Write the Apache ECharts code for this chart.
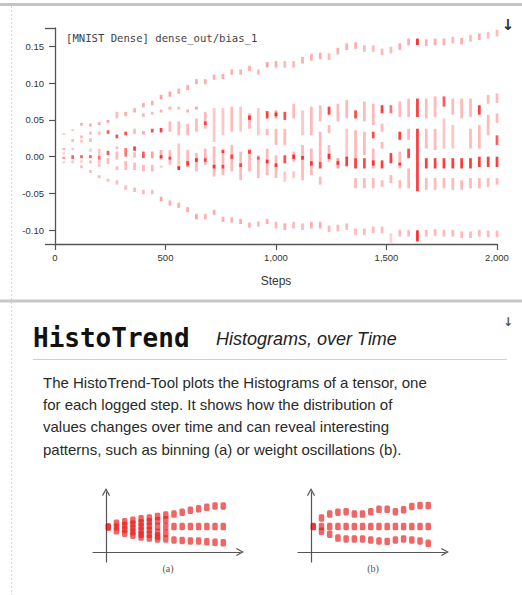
<!DOCTYPE html>
<html><head><meta charset="utf-8">
<script src="https://cdn.jsdelivr.net/npm/echarts@6/dist/echarts.min.js"></script>
<style>html,body{margin:0;padding:0;background:#fff}#c{width:522px;height:595px}</style>
</head><body><div id="c"></div>
<script>
// ---------- data ----------
const steps = [40,80,120,160,200,240,280,320,360,400,440,480,520,560,600,640,680,720,760,800,840,880,920,960,1000,1040,1080,1120,1160,1200,1240,1280,1320,1360,1400,1440,1480,1520,1560,1600,1640,1680,1720,1760,1800,1840,1880,1920,1960,2000];

// upper outlier bin per step: [low, high, weight]
const upperBand = [
 [0.030,0.032,0.35],[0.035,0.037,0.35],[0.042,0.046,0.4],[0.041,0.045,0.4],[0.043,0.047,0.4],[0.046,0.050,0.45],
 [0.052,0.061,0.35],[0.055,0.061,0.4],[0.060,0.066,0.4],[0.067,0.073,0.4],[0.070,0.076,0.4],[0.078,0.084,0.45],
 [0.0815,0.0885,0.45],[0.0855,0.0925,0.4],[0.0905,0.0975,0.4],[0.0985,0.1055,0.4],[0.0985,0.1055,0.4],[0.1045,0.1115,0.4],
 [0.1055,0.1125,0.4],[0.1115,0.1185,0.4],[0.1115,0.1185,0.4],[0.1165,0.1235,0.4],[0.1115,0.1185,0.35],[0.1215,0.1285,0.45],
 [0.121,0.130,0.4],[0.121,0.130,0.35],[0.121,0.130,0.35],[0.1265,0.1355,0.4],[0.1305,0.1395,0.4],[0.1325,0.1415,0.4],
 [0.1315,0.1405,0.35],[0.139,0.148,0.4],[0.145,0.154,0.4],[0.1465,0.1555,0.4],[0.1425,0.1515,0.35],[0.1425,0.1515,0.35],
 [0.138,0.147,0.35],[0.1405,0.1495,0.35],[0.145,0.154,0.4],[0.1515,0.1605,0.4],[0.1515,0.1605,0.85],[0.1505,0.1595,0.4],
 [0.1515,0.1605,0.4],[0.1515,0.1605,0.4],[0.154,0.163,0.35],[0.1525,0.1615,0.4],[0.1565,0.1655,0.35],[0.1585,0.1675,0.4],
 [0.1605,0.1695,0.35],[0.1635,0.1725,0.35]
];

// lower outlier bin per step: [low, high, weight]
const lowerBand = [
 null,null,[-0.0156,-0.0116,0.35],[-0.022,-0.018,0.35],[-0.029,-0.025,0.35],[-0.034,-0.030,0.35],
 [-0.038,-0.032,0.35],[-0.045,-0.039,0.35],[-0.048,-0.042,0.35],[-0.051,-0.045,0.35],[-0.051,-0.045,0.35],[-0.0605,-0.0545,0.45],
 [-0.0665,-0.0595,0.4],[-0.0695,-0.0625,0.4],[-0.0755,-0.0685,0.4],[-0.085,-0.078,0.45],[-0.085,-0.078,0.4],[-0.079,-0.072,0.4],
 [-0.0885,-0.0815,0.4],[-0.0895,-0.0825,0.4],[-0.0915,-0.0845,0.4],[-0.0965,-0.0895,0.4],[-0.095,-0.088,0.35],[-0.0915,-0.0845,0.4],
 [-0.0975,-0.0885,0.35],[-0.0995,-0.0905,0.4],[-0.0975,-0.0885,0.35],[-0.0995,-0.0905,0.35],[-0.0975,-0.0885,0.4],[-0.0975,-0.0885,0.4],
 [-0.1025,-0.0935,0.35],[-0.1015,-0.0925,0.35],[-0.0995,-0.0905,0.35],[-0.1065,-0.0975,0.35],[-0.1065,-0.0975,0.35],[-0.104,-0.095,0.35],
 [-0.104,-0.095,0.35],[-0.117,-0.104,0.25],[-0.1085,-0.0995,0.35],[-0.1085,-0.0995,0.35],[-0.115,-0.100,0.85],[-0.1085,-0.0995,0.35],
 [-0.1075,-0.0985,0.35],[-0.1085,-0.0995,0.35],[-0.1085,-0.0995,0.35],[-0.1105,-0.1015,0.35],[-0.1105,-0.1015,0.35],[-0.1085,-0.0995,0.35],
 [-0.1095,-0.1005,0.35],[-0.1095,-0.1005,0.35]
];

// central bins per step: list of [low, high, weight]
const middleBins = [
 [[0.009,0.012,0.4],[0.003,0.006,0.3],[-0.003,0.000,0.5],[-0.009,-0.006,0.3]],
 [[0.020,0.024,0.35],[0.009,0.012,0.3],[-0.003,0.002,0.7],[-0.009,-0.005,0.3]],
 [[0.025,0.029,0.35],[0.019,0.023,0.3],[-0.002,0.002,0.7],[-0.008,-0.005,0.3]],
 [[0.030,0.034,0.35],[0.020,0.025,0.35],[0.007,0.011,0.3],[-0.002,0.002,0.7],[-0.009,-0.005,0.35]],
 [[0.030,0.034,0.35],[-0.014,0.011,0.3],[-0.004,0.001,0.5]],
 [[0.031,0.036,0.7],[0.002,0.008,0.7],[-0.010,-0.002,0.35]],
 [[0.025,0.030,0.75],[0.010,0.014,0.35],[-0.004,0.007,0.35],[-0.018,-0.013,0.35]],
 [[0.029,0.034,0.75],[0.000,0.012,0.6],[-0.018,-0.006,0.35]],
 [[0.031,0.038,0.35],[0.008,0.014,0.8],[-0.001,0.006,0.35],[-0.018,-0.008,0.35]],
 [[0.054,0.059,0.35],[0.030,0.035,0.4],[-0.002,0.007,0.7],[-0.020,-0.011,0.35]],
 [[0.057,0.061,0.35],[0.033,0.038,0.75],[-0.002,0.007,0.45],[-0.020,-0.011,0.35]],
 [[0.060,0.064,0.4],[0.033,0.039,0.8],[-0.004,0.009,0.4],[-0.002,0.002,0.8],[-0.015,-0.012,0.3]],
 [[0.064,0.068,0.4],[0.034,0.048,0.35],[-0.011,0.009,0.35],[-0.004,0.000,0.7]],
 [[0.064,0.068,0.35],[0.029,0.048,0.35],[-0.016,0.018,0.3],[-0.018,-0.013,0.85]],
 [[0.060,0.064,0.4],[0.029,0.045,0.35],[-0.014,0.009,0.35],[-0.012,-0.006,0.75]],
 [[0.064,0.068,0.45],[0.034,0.052,0.35],[-0.020,0.005,0.35],[-0.007,-0.002,0.8]],
 [[0.038,0.061,0.35],[0.043,0.048,0.7],[-0.011,0.011,0.35],[-0.007,-0.002,0.7]],
 [[0.020,0.066,0.3],[-0.027,0.014,0.35],[-0.016,-0.011,0.8]],
 [[0.029,0.066,0.3],[-0.025,0.011,0.35],[0.005,0.009,0.75],[-0.016,-0.011,0.7]],
 [[0.034,0.068,0.35],[-0.020,0.016,0.35],[-0.003,0.003,0.7]],
 [[0.034,0.068,0.3],[-0.032,0.007,0.35],[-0.014,-0.009,0.7]],
 [[0.038,0.059,0.35],[0.050,0.056,0.8],[-0.020,0.011,0.35],[0.004,0.009,0.75]],
 [[0.029,0.066,0.3],[-0.029,0.002,0.35],[-0.004,0.000,0.6]],
 [[0.052,0.062,0.8],[0.029,0.038,0.35],[-0.025,0.011,0.35],[-0.009,-0.004,0.8]],
 [[0.052,0.063,0.45],[0.055,0.060,0.8],[0.016,0.038,0.35],[-0.029,0.002,0.35],[-0.014,-0.009,0.75]],
 [[0.050,0.061,0.75],[0.016,0.038,0.35],[-0.009,0.002,0.75],[-0.034,-0.020,0.3]],
 [[0.052,0.072,0.35],[-0.007,0.007,0.35],[-0.003,0.003,0.8],[-0.029,-0.020,0.3]],
 [[0.029,0.063,0.3],[-0.032,0.016,0.35],[-0.004,0.001,0.8]],
 [[0.029,0.068,0.35],[-0.025,0.011,0.35],[-0.012,-0.006,0.75]],
 [[0.048,0.070,0.35],[-0.007,0.034,0.35],[-0.016,-0.007,0.75],[-0.038,-0.027,0.35]],
 [[0.057,0.068,0.8],[0.032,0.043,0.35],[-0.007,0.016,0.35],[-0.003,0.004,0.8]],
 [[0.048,0.072,0.35],[-0.016,-0.002,0.45],[-0.011,-0.006,0.75]],
 [[0.052,0.077,0.35],[-0.002,0.038,0.3],[-0.013,0.000,0.8]],
 [[0.052,0.063,0.75],[-0.002,0.036,0.35],[-0.016,-0.002,0.8],[-0.043,-0.029,0.35]],
 [[0.048,0.075,0.35],[0.002,0.034,0.35],[-0.016,-0.002,0.75],[-0.043,-0.029,0.35]],
 [[0.043,0.072,0.35],[0.025,0.034,0.75],[-0.016,0.011,0.35],[-0.012,-0.005,0.8],[-0.043,-0.029,0.35]],
 [[0.059,0.070,0.8],[0.034,0.045,0.35],[0.011,0.020,0.35],[-0.016,-0.005,0.8],[-0.041,-0.032,0.35]],
 [[0.059,0.070,0.6],[-0.009,0.005,0.8],[-0.036,-0.025,0.35]],
 [[0.054,0.075,0.35],[0.023,0.034,0.8],[-0.016,0.007,0.35],[-0.012,-0.008,0.75],[-0.043,-0.032,0.35]],
 [[0.054,0.079,0.35],[0.023,0.038,0.35],[-0.002,0.011,0.75],[-0.043,-0.016,0.35]],
 [[0.054,0.079,0.8],[-0.047,0.038,0.8]],
 [[0.052,0.079,0.35],[0.011,0.038,0.35],[-0.016,-0.002,0.8],[-0.045,-0.029,0.35]],
 [[0.054,0.082,0.35],[0.009,0.038,0.35],[-0.016,-0.002,0.8],[-0.045,-0.029,0.35]],
 [[0.068,0.082,0.7],[0.011,0.052,0.3],[-0.016,-0.002,0.8],[-0.043,-0.029,0.35]],
 [[0.057,0.079,0.35],[0.011,0.043,0.3],[-0.016,-0.002,0.8],[-0.045,-0.029,0.35]],
 [[0.052,0.079,0.35],[-0.016,-0.002,0.8],[-0.045,-0.032,0.35]],
 [[0.054,0.079,0.35],[0.011,0.038,0.35],[-0.016,-0.002,0.8],[-0.043,-0.029,0.35]],
 [[0.057,0.070,0.8],[0.011,0.043,0.35],[-0.014,0.000,0.8],[-0.043,-0.029,0.35]],
 [[0.072,0.084,0.35],[0.029,0.057,0.35],[-0.014,0.000,0.8],[-0.041,-0.029,0.35]],
 [[0.073,0.086,0.35],[0.046,0.059,0.35],[0.016,0.029,0.7],[-0.014,0.000,0.8],[-0.038,-0.029,0.35]]
];

const xTickValues = [0,500,1000,1500,2000];
const yTickValues = [-0.10,-0.05,0.00,0.05,0.10,0.15];
const yMin = -0.1186, yMax = 0.1749;

// small illustrations: column index -> row offsets
const miniA = [[-0.5],[3.5,-0.5,-4.5],[5,1,-3,-7],[6.5,2.5,-1.5,-5.5,-9],[8,4,0,-4,-8,-11],[9,5,0.5,-3.5,-8,-12],
 [10.5,6,0,-6,-10,-13],[12,7,0,-7,-13],[13,0,-14],[15,0,-14.5],[17,0,-15],[18.5,0,-15],[20,0,-16],[21.5,0,-16.5],[21.5,0,-17]];
const miniB = [[0],[9,0,-5],[13,0,-8],[15,0,-12],[15.5,0,-13],[13,0,-13],[13,0,-13],[15.5,0,-14],[18,0,-15],[18,0,-15.5],
 [15.5,0,-14],[17.5,0,-13],[21,0,-14],[22,0,-15],[22,0,-17.5]];

// ---------- build ----------
const binRows = [];
steps.forEach((s, i) => {
  if (upperBand[i]) binRows.push([s, upperBand[i][0], upperBand[i][1], upperBand[i][2]]);
  if (lowerBand[i]) binRows.push([s, lowerBand[i][0], lowerBand[i][1], lowerBand[i][2]]);
  middleBins[i].forEach(b => binRows.push([s, b[0], b[1], b[2]]));
});
function miniPoints(src) {
  const out = [];
  src.forEach((col, c) => col.forEach(v => out.push({value:[c, v], itemStyle:{color: c === 0 ? 'rgba(215,0,0,0.95)' : 'rgba(232,30,30,0.85)'}})));
  return out;
}

const chart = echarts.init(document.getElementById('c'), null, {renderer:'svg'});
const axisCol = '#555';
const chevron = 'path://M5,0 L10,9 L8.8,9.8 L5,3 L1.2,9.8 L0,9 Z';
const miniAxisX = (g) => ({gridIndex:g, type:'value', min:-1.86, max:16.04, position:'bottom', offset:-10,
  axisLine:{onZero:false, lineStyle:{color:'#555', width:1.2}, symbol:['none', chevron], symbolSize:[8,9]},
  axisTick:{show:false}, axisLabel:{show:false}, splitLine:{show:false}});
const miniAxisY = (g) => ({gridIndex:g, type:'value', min:-37, max:36, position:'left', offset:-13,
  axisLine:{onZero:false, lineStyle:{color:'#555', width:1.2}, symbol:['none', chevron], symbolSize:[8,9]},
  axisTick:{show:false}, axisLabel:{show:false}, splitLine:{show:false}});

const paragraph = [
  'The HistoTrend-Tool plots the Histograms of a tensor, one',
  'for each logged step. It shows how the distribution of',
  'values changes over time and can reveal interesting',
  'patterns, such as binning (a) or weight oscillations (b).'
];

const graphics = [
  {type:'line', shape:{x1:0,y1:4.5,x2:522,y2:4.5}, style:{stroke:'#c4c4c4', lineWidth:3}},
  {type:'line', shape:{x1:11.5,y1:6,x2:11.5,y2:595}, style:{stroke:'#d8d8d8', lineWidth:1, lineDash:[2,2]}},
  {type:'line', shape:{x1:0,y1:301,x2:522,y2:301}, style:{stroke:'#c8c8c8', lineWidth:3}},
  {type:'text', x:66, y:38, style:{text:'[MNIST Dense] dense_out/bias_1', font:'10.6px "DejaVu Sans Mono", monospace', fill:'#444', verticalAlign:'middle', textVerticalAlign:'middle'}},
  {type:'text', x:508, y:25, style:{text:'\u2193', font:'bold 15px "DejaVu Sans", sans-serif', fill:'#333', align:'center', textAlign:'center', verticalAlign:'middle', textVerticalAlign:'middle'}},
  {type:'text', x:508, y:322, style:{text:'\u2193', font:'bold 12px "DejaVu Sans", sans-serif', fill:'#555', align:'center', textAlign:'center', verticalAlign:'middle', textVerticalAlign:'middle'}},
  {type:'text', x:33, y:338, style:{text:'HistoTrend', font:'bold 26px "DejaVu Sans Mono", monospace', fill:'#111', verticalAlign:'middle', textVerticalAlign:'middle'}},
  {type:'text', x:216, y:339, style:{text:'Histograms, over Time', font:'italic 18px "Liberation Sans", Arial, sans-serif', fill:'#222', verticalAlign:'middle', textVerticalAlign:'middle'}},
  {type:'line', shape:{x1:33,y1:359.5,x2:507,y2:359.5}, style:{stroke:'#cfcfcf', lineWidth:1}},
  {type:'text', x:168, y:568, style:{text:'(a)', font:'10px "Liberation Serif", serif', fill:'#555', align:'center', textAlign:'center', verticalAlign:'middle', textVerticalAlign:'middle'}},
  {type:'text', x:373, y:568, style:{text:'(b)', font:'10px "Liberation Serif", serif', fill:'#555', align:'center', textAlign:'center', verticalAlign:'middle', textVerticalAlign:'middle'}}
];
const lineYs = [382, 404.4, 426.8, 449.2];
paragraph.forEach((t, i) => graphics.push({type:'text', x:43, y:lineYs[i],
  style:{text:t, font:'15px "Liberation Sans", Arial, sans-serif', fill:'#2a2a2a', verticalAlign:'middle', textVerticalAlign:'middle'}}));

chart.setOption({
  animation:false,
  grid:[
    {left:55, top:28, width:442, height:216},
    {left:93, top:492, width:147, height:70},
    {left:298, top:492, width:147, height:70}
  ],
  xAxis:[
    {gridIndex:0, type:'value', min:0, max:2000, position:'bottom',
     axisLine:{onZero:false, lineStyle:{color:axisCol, width:1.3}},
     axisTick:{customValues:xTickValues, length:6, lineStyle:{color:axisCol, width:1.2}},
     axisLabel:{customValues:xTickValues, formatter:v => Number(v).toLocaleString('en-US'), fontSize:9.5, color:'#333', margin:8, fontFamily:'"Liberation Sans", Arial, sans-serif'},
     splitLine:{show:false},
     name:'Steps', nameLocation:'middle', nameGap:31,
     nameTextStyle:{fontSize:12, color:'#333', fontFamily:'"Liberation Sans", Arial, sans-serif'}},
    miniAxisX(1), miniAxisX(2)
  ],
  yAxis:[
    {gridIndex:0, type:'value', min:yMin, max:yMax, position:'left',
     axisLine:{show:true, onZero:false, lineStyle:{color:axisCol, width:1.3}},
     axisTick:{show:true, customValues:yTickValues, length:6, lineStyle:{color:axisCol, width:1.2}},
     axisLabel:{customValues:yTickValues, formatter:v => Number(v).toFixed(2), fontSize:9.5, color:'#333', margin:11, fontFamily:'"Liberation Sans", Arial, sans-serif'},
     splitLine:{show:false}},
    {gridIndex:0, type:'value', min:yMin, max:yMax, position:'left',
     axisLine:{show:false, onZero:false},
     axisTick:{show:true, customValues:[yMin, yMax], length:10, lineStyle:{color:axisCol, width:1.3}},
     axisLabel:{show:false}, splitLine:{show:false}},
    miniAxisY(1), miniAxisY(2)
  ],
  series:[
    {type:'custom', xAxisIndex:0, yAxisIndex:0, clip:false, data:binRows,
     renderItem:(params, api) => {
       const s = api.value(0), lo = api.value(1), hi = api.value(2), w = api.value(3);
       const top = api.coord([s, hi]), bot = api.coord([s, lo]);
       const bw = api.size([12.5, 0])[0];
       return {type:'rect', shape:{x:top[0]-bw/2, y:top[1], width:bw, height:Math.max(1.2, bot[1]-top[1])},
               style:{fill:'rgba(250,0,0,' + Math.pow(w, 1.25).toFixed(3) + ')'}};
     }},
    {type:'scatter', xAxisIndex:1, yAxisIndex:2, symbol:'roundRect', symbolSize:[5.5,7.5], data:miniPoints(miniA), silent:true},
    {type:'scatter', xAxisIndex:2, yAxisIndex:3, symbol:'roundRect', symbolSize:[5.5,7.5], data:miniPoints(miniB), silent:true}
  ],
  graphic:graphics
});
</script></body></html>
